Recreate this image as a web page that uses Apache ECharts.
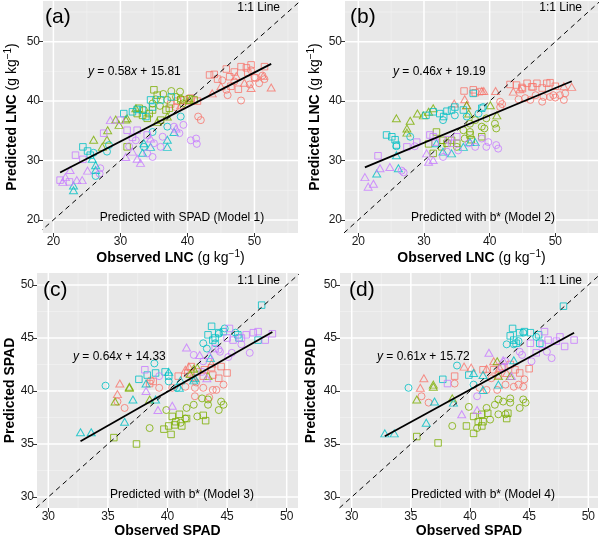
<!DOCTYPE html>
<html><head><meta charset="utf-8">
<script src="https://cdn.jsdelivr.net/npm/echarts@6/dist/echarts.min.js"></script>
<style>html,body{margin:0;padding:0;background:#fff}#c{width:600px;height:539px}</style>
</head><body><div id="c"></div>
<script>
// ---------- tick labels ----------
const ticksLNC = [20, 30, 40, 50];
const minorLNC = [25, 35, 45, 55];
const ticksSPAD = [30, 35, 40, 45, 50];
const minorSPAD = [32.5, 37.5, 42.5, 47.5];

// ---------- regression coefficients [slope, intercept] ----------
const coefA = [0.58, 15.81];
const coefB = [0.46, 19.19];
const coefC = [0.64, 14.33];
const coefD = [0.61, 15.72];

// ---------- panel (a): observed vs predicted LNC, SPAD model ----------
const aRedSq = [[43.3,44.4],[44.0,44.5],[44.5,43.7],[45.8,45.4],[46.3,44.1],[47.0,44.9],[47.6,42.0],[48.0,45.8],[48.8,45.6],[49.0,44.8],[49.5,46.1],[50.1,43.9],[51.5,45.8],[46.5,42.5],[38.5,40.0],[39.5,40.2],[40.5,40.5],[41.5,40.0],[37.5,39.5]];
const aRedCi = [[41.6,37.4],[42.0,36.8],[45.8,41.9],[46.0,41.0],[48.0,40.1],[49.3,42.8],[50.7,43.0],[51.5,43.7],[51.2,44.3],[45.2,43.5],[49.5,45.2],[47.0,43.3],[38.2,39.0],[50.0,44.0]];
const aRedTr = [[52.5,42.3],[49.5,42.2],[51.3,44.2],[48.5,43.1],[45.0,42.5],[43.7,41.3],[47.3,44.2],[39.0,39.3],[40.0,40.0]];
const aGrnCi = [[36.4,41.2],[37.6,41.7],[38.9,41.6],[39.0,40.4],[35.3,40.3],[34.8,39.6],[39.3,39.6],[37.0,40.2],[35.9,39.2],[33.5,38.5],[38.3,40.7]];
const aGrnSq = [[35.0,41.9],[35.5,41.0],[32.8,38.8],[33.3,37.6],[34.3,37.9],[36.0,36.8],[37.3,38.8],[31.0,32.3],[34.0,37.1],[39.0,40.2],[40.3,40.4],[41.0,40.2],[34.8,38.5],[36.8,38.5],[32.5,37.9]];
const aGrnTr = [[32.3,38.8],[29.3,36.9],[29.8,36.0],[30.8,36.9],[28.1,35.1],[26.0,33.5],[28.0,33.5],[27.3,32.3],[31.0,37.1],[35.5,36.5],[37.0,37.4],[40.3,40.2]];
const aCyaSq = [[24.4,32.3],[25.1,31.6],[25.5,30.9],[31.8,38.2],[33.3,38.5],[34.5,40.2],[33.8,37.4],[37.6,40.7],[36.0,40.2],[34.8,39.0],[32.5,38.6],[30.5,37.9]];
const aCyaCi = [[26.0,31.3],[26.3,27.4],[28.0,31.5],[37.0,35.7],[39.0,37.4],[28.3,32.6],[33.5,32.3],[34.8,34.8]];
const aCyaTr = [[23.0,25.8],[23.0,25.0],[26.3,29.2],[26.3,28.4],[25.8,30.3],[33.5,32.9],[34.5,32.3],[37.0,33.5],[37.0,32.3],[38.0,34.8],[33.3,31.3]];
const aPurTr = [[21.4,26.4],[21.8,27.2],[22.5,28.4],[24.3,26.7],[25.1,28.3],[23.5,26.7],[28.5,36.8],[30.8,30.6],[32.5,30.3],[33.0,29.6],[31.8,31.5],[34.5,33.7],[38.3,35.4]];
const aPurSq = [[21.0,26.7],[22.4,26.4],[23.3,30.9],[24.4,30.2],[27.5,34.6],[31.0,35.1],[30.0,36.8],[32.5,35.1],[31.8,33.9],[34.0,34.3]];
const aPurCi = [[26.9,27.8],[27.0,28.7],[31.3,32.4],[32.3,33.4],[34.0,31.2],[34.8,30.6],[35.0,32.9],[36.3,34.0],[38.0,35.7],[38.8,34.6],[39.4,36.0],[40.5,33.4],[41.3,33.7],[41.4,32.8],[36.0,32.3]];

// ---------- panel (b): LNC, b* model ----------
const bRedSq = [[36.1,41.7],[37.5,41.9],[37.8,41.4],[38.5,41.6],[43.1,42.8],[44.1,42.7],[44.9,42.3],[45.7,43.0],[46.4,42.4],[47.2,43.0],[48.0,42.2],[48.7,43.0],[49.2,43.1],[50.0,42.5],[45.0,42.1],[46.6,42.4]];
const bRedTr = [[36.2,40.3],[38.8,41.7],[39.1,41.7],[40.9,41.7],[43.6,41.6],[44.6,42.0],[51.3,42.5],[52.5,42.4],[34.6,39.6],[36.5,39.3]];
const bRedCi = [[41.6,39.9],[41.9,39.5],[41.6,39.0],[45.4,40.5],[46.2,40.2],[48.0,39.9],[48.2,40.7],[49.2,40.7],[49.7,41.0],[50.0,40.6],[50.7,41.0],[51.3,40.2],[51.5,41.3],[47.0,41.0],[44.4,40.3]];
const bGrnTr = [[25.8,37.1],[27.9,36.7],[27.4,35.4],[29.0,37.9],[29.9,37.6],[30.7,38.2],[31.4,38.8],[36.5,39.3],[40.1,39.3],[41.1,37.6],[36.8,37.9],[27.4,34.7]];
const bGrnCi = [[36.0,35.1],[37.0,34.8],[38.8,35.7],[39.2,35.4],[39.5,37.1],[40.8,36.2],[41.0,35.4],[37.0,36.2],[35.0,32.3],[36.2,33.7],[37.8,36.8]];
const bGrnSq = [[30.7,32.8],[31.4,31.2],[32.7,32.3],[32.9,33.4],[34.2,33.4],[37.0,34.3],[37.2,33.5],[38.8,34.0],[31.9,34.8],[35.0,32.9],[33.5,32.9]];
const bCyaSq = [[24.3,34.3],[25.1,34.0],[25.6,33.5],[25.8,32.6],[30.3,37.6],[31.4,38.2],[32.4,37.9],[33.5,38.3],[34.2,38.5],[34.7,39.0],[33.0,37.4],[36.0,38.5],[37.5,41.3],[38.8,38.8]];
const bCyaCi = [[27.9,34.0],[25.8,32.4],[32.9,36.8],[34.7,37.6],[36.5,37.4],[38.3,37.9],[39.0,39.0]];
const bCyaTr = [[22.8,27.8],[25.8,30.9],[26.1,28.7],[31.9,32.9],[32.9,31.5],[34.2,31.2],[36.0,32.3],[37.0,33.1],[37.8,33.1]];
const bPurTr = [[21.0,27.2],[21.5,25.6],[22.3,26.1],[23.3,28.7],[24.8,28.9],[30.4,31.2],[30.7,29.8],[31.4,30.1]];
const bPurSq = [[23.0,30.8],[27.4,32.3],[28.9,33.1],[30.9,34.3],[31.4,34.0],[31.7,33.1],[33.7,33.5],[34.2,32.9],[35.0,34.0]];
const bPurCi = [[26.6,28.3],[26.9,28.0],[28.6,32.4],[32.9,30.6],[33.5,31.5],[35.2,31.7],[37.8,32.3],[38.8,33.7],[39.8,33.1],[41.0,32.6],[41.3,32.0],[39.5,32.3],[36.8,32.9]];

// ---------- panel (c): SPAD, model 3 ----------
const cCyaSq = [[37.6,41.1],[38.3,41.5],[39.0,41.7],[39.8,41.8],[40.1,41.4],[47.9,48.1],[43.7,46.1],[43.4,45.3],[43.8,44.8],[44.3,45.5],[44.7,45.6],[45.9,45.3],[47.6,44.8],[44.0,45.0],[46.0,45.0]];
const cCyaCi = [[34.8,40.5],[38.9,42.6],[40.1,40.9],[40.8,40.3],[43.0,44.5],[44.0,44.5],[44.8,45.9],[45.7,45.5],[43.3,44.0],[44.3,45.4]];
const cCyaTr = [[32.7,36.1],[33.6,36.1],[36.4,37.1],[37.1,39.2],[38.2,40.7],[39.0,39.2],[40.1,41.8],[41.1,41.0],[42.2,41.0],[43.6,43.1],[42.3,41.2],[41.0,40.3]];
const cRedTr = [[36.0,40.7],[35.8,39.7],[41.5,42.0],[41.8,42.3],[43.7,42.6],[42.2,41.3]];
const cRedCi = [[35.8,39.0],[36.4,38.4],[38.6,41.0],[39.3,40.3],[40.4,40.3],[41.5,40.4],[42.3,40.3],[43.0,40.3],[43.8,40.1],[44.1,40.1],[44.7,40.6],[42.3,39.5],[43.5,39.4],[42.4,40.8]];
const cRedSq = [[38.5,40.7],[38.8,40.9],[40.9,41.4],[41.7,41.7],[42.5,41.8],[43.1,42.0],[43.7,42.2],[44.5,42.3],[45.0,41.7],[44.3,41.2],[43.0,41.4],[43.8,41.5],[42.0,42.3]];
const cPurTr = [[38.2,40.0],[39.2,38.2],[40.4,38.6],[41.6,44.1],[42.7,43.4],[43.3,41.2],[43.5,43.4]];
const cPurSq = [[38.1,42.0],[45.2,45.9],[45.5,44.8],[46.6,45.3],[47.2,45.5],[47.6,45.6],[48.2,44.8],[48.8,45.4],[46.2,45.0],[45.0,45.0],[44.0,44.0]];
const cPurCi = [[39.3,41.4],[42.9,41.8],[46.9,43.6],[46.2,44.4],[45.1,43.2],[44.4,43.7],[42.2,43.4],[43.0,42.8],[45.4,43.6],[44.3,43.9]];
const cGrnTr = [[35.6,39.0],[36.8,40.4],[36.8,40.3],[38.5,39.2],[42.5,42.2],[43.4,41.4],[42.2,42.1],[41.9,41.6]];
const cGrnCi = [[38.5,36.5],[39.9,38.2],[41.6,38.4],[42.2,38.7],[42.9,39.3],[43.4,39.2],[44.5,39.0],[44.7,38.7],[44.3,38.2],[42.5,37.6],[41.5,37.4],[41.1,37.0],[43.4,38.7]];
const cGrnSq = [[35.5,35.6],[37.4,35.0],[39.7,36.4],[40.1,36.7],[40.3,35.9],[40.4,37.6],[40.7,37.1],[41.0,37.8],[41.6,37.4],[43.0,37.7],[43.2,37.2],[41.2,36.7],[40.6,36.8]];

// ---------- panel (d): SPAD, model 4 ----------
const dCyaSq = [[37.7,41.1],[39.9,41.5],[47.9,48.0],[43.6,45.9],[43.4,45.2],[43.7,44.8],[44.2,45.5],[44.6,45.6],[45.1,45.5],[45.8,45.3],[45.9,44.5],[43.9,44.5]];
const dCyaCi = [[34.8,40.3],[38.9,42.4],[40.3,40.6],[43.1,44.4],[43.7,44.4],[44.1,44.7],[44.5,45.5],[45.6,45.1]];
const dCyaTr = [[32.8,36.0],[33.6,36.0],[36.3,37.0],[37.0,39.0],[38.6,38.9],[40.3,41.7],[41.1,41.5],[41.1,40.1],[42.4,40.6],[43.7,42.9]];
const dRedTr = [[36.1,41.2],[35.8,40.3],[39.5,42.3],[40.1,42.2],[41.4,42.1],[42.0,42.8],[42.5,42.2],[43.1,41.7]];
const dRedCi = [[35.9,39.5],[36.5,38.9],[38.7,40.7],[40.8,40.3],[42.3,40.1],[43.0,40.6],[43.7,40.4],[44.1,40.6],[44.5,40.4],[44.6,41.1],[41.4,40.1],[41.8,41.2]];
const dRedSq = [[38.7,41.4],[41.1,42.0],[42.0,42.0],[42.7,42.3],[43.4,42.5],[43.8,42.0],[44.2,41.7],[45.0,42.1],[42.4,41.5]];
const dPurTr = [[39.3,37.8],[40.6,38.2],[41.6,43.6],[42.8,42.9],[43.5,41.4]];
const dPurSq = [[38.1,40.7],[46.3,45.6],[46.6,44.8],[47.3,44.7],[47.6,45.1],[48.0,44.2],[48.8,44.8],[45.1,44.5],[45.6,43.6],[46.1,44.4]];
const dPurCi = [[40.6,39.5],[46.9,43.1],[45.2,42.8],[46.5,43.7],[44.4,43.4],[42.7,42.2],[43.0,42.8],[44.2,43.7]];
const dGrnTr = [[35.5,39.2],[36.9,40.6],[36.9,40.4],[38.5,39.3],[42.3,42.8],[42.4,41.4],[43.4,41.4]];
const dGrnCi = [[38.5,36.7],[39.9,38.5],[41.4,38.4],[42.1,38.7],[42.4,39.2],[42.8,39.0],[43.4,39.3],[43.4,38.9],[44.5,39.2],[44.7,38.9],[44.2,38.4],[43.0,37.8],[42.4,37.8],[41.7,37.3],[40.6,36.5]];
const dGrnSq = [[35.5,35.7],[37.3,35.1],[39.7,36.7],[40.3,36.0],[40.3,37.6],[40.7,37.1],[41.0,37.8],[41.5,37.9],[41.1,37.1],[43.1,37.4],[43.2,37.9],[41.0,36.7]];

// ---------- styling ----------
const F = "'Liberation Sans', Arial, Helvetica, sans-serif";
const COL = {red:'#F8766D', grn:'#7CAE00', cya:'#00BFC4', pur:'#C77CFF'};
const SIZE = {circle:7, rect:6.5, triangle:[8,7]};

const nameRich = {
  b:{fontFamily:F, fontSize:14, fontWeight:'bold', color:'#000', lineHeight:18},
  n:{fontFamily:F, fontSize:14, color:'#000', lineHeight:18},
  s:{fontFamily:F, fontSize:10, color:'#000', lineHeight:10, verticalAlign:'top'}
};
const lncX = '{b|Observed LNC }{n|(g kg}{s|−1}{n|)}';
const lncY = '{b|Predicted LNC }{n|(g kg}{s|−1}{n|)}';

const panels = [
  {grid:{left:43, top:1, width:255, height:232}, x:[18.45,56.5], y:[17.8,56.85], ticks:ticksLNC, minor:minorLNC,
   xName:lncX, yName:lncY, xGap:12, yGap:22, coef:coefA,
   groups:[[aRedCi,'red','circle'],[aRedTr,'red','triangle'],[aRedSq,'red','rect'],[aGrnCi,'grn','circle'],[aGrnTr,'grn','triangle'],[aGrnSq,'grn','rect'],[aCyaCi,'cya','circle'],[aCyaTr,'cya','triangle'],[aCyaSq,'cya','rect'],[aPurCi,'pur','circle'],[aPurTr,'pur','triangle'],[aPurSq,'pur','rect']]},
  {grid:{left:345, top:1, width:253, height:232}, x:[17.97,56.5], y:[17.8,56.85], ticks:ticksLNC, minor:minorLNC,
   xName:lncX, yName:lncY, xGap:12, yGap:21, coef:coefB,
   groups:[[bRedCi,'red','circle'],[bRedTr,'red','triangle'],[bRedSq,'red','rect'],[bGrnCi,'grn','circle'],[bGrnTr,'grn','triangle'],[bGrnSq,'grn','rect'],[bCyaCi,'cya','circle'],[bCyaTr,'cya','triangle'],[bCyaSq,'cya','rect'],[bPurCi,'pur','circle'],[bPurTr,'pur','triangle'],[bPurSq,'pur','rect']]},
  {grid:{left:37, top:273, width:261, height:235}, x:[29.05,50.95], y:[28.96,51.13], ticks:ticksSPAD, minor:minorSPAD,
   xName:'{b|Observed SPAD}', yName:'{b|Predicted SPAD}', xGap:12, yGap:17, coef:coefC,
   groups:[[cRedCi,'red','circle'],[cRedTr,'red','triangle'],[cRedSq,'red','rect'],[cGrnCi,'grn','circle'],[cGrnTr,'grn','triangle'],[cGrnSq,'grn','rect'],[cCyaCi,'cya','circle'],[cCyaTr,'cya','triangle'],[cCyaSq,'cya','rect'],[cPurCi,'pur','circle'],[cPurTr,'pur','triangle'],[cPurSq,'pur','rect']]},
  {grid:{left:340, top:273, width:258, height:235}, x:[29.01,50.82], y:[28.96,51.13], ticks:ticksSPAD, minor:minorSPAD,
   xName:'{b|Observed SPAD}', yName:'{b|Predicted SPAD}', xGap:12, yGap:20, coef:coefD,
   groups:[[dRedCi,'red','circle'],[dRedTr,'red','triangle'],[dRedSq,'red','rect'],[dGrnCi,'grn','circle'],[dGrnTr,'grn','triangle'],[dGrnSq,'grn','rect'],[dCyaCi,'cya','circle'],[dCyaTr,'cya','triangle'],[dCyaSq,'cya','rect'],[dPurCi,'pur','circle'],[dPurTr,'pur','triangle'],[dPurSq,'pur','rect']]}
];

const grids = [], xAxes = [], yAxes = [], series = [];
panels.forEach((p, i) => {
  grids.push(Object.assign({show:true, backgroundColor:'#E8E8E8', borderWidth:0, containLabel:false}, p.grid));
  const axisCommon = (ticks) => ({
    type:'value', gridIndex:i, axisLine:{show:false},
    axisTick:{show:true, customValues:ticks, length:4, lineStyle:{color:'#333', width:1}},
    axisLabel:{customValues:ticks, color:'#1a1a1a', fontSize:12, fontFamily:F, margin:3},
    splitLine:{show:false}, nameLocation:'middle', nameTextStyle:{rich:nameRich}
  });
  xAxes.push(Object.assign(axisCommon(p.ticks), {min:p.x[0], max:p.x[1], name:p.xName, nameGap:p.xGap}));
  yAxes.push(Object.assign(axisCommon(p.ticks), {min:p.y[0], max:p.y[1], name:p.yName, nameGap:p.yGap, nameRotate:90}));

  // background grid lines: one line series per grid line, spanning the panel
  const gl = (v, vertical, color, width) => ({type:'line', xAxisIndex:i, yAxisIndex:i, symbol:'none', silent:true, z:1,
    data: vertical ? [[v, p.y[0]], [v, p.y[1]]] : [[p.x[0], v], [p.x[1], v]],
    lineStyle:{color, width}});
  p.minor.forEach(v => { series.push(gl(v, true, '#F2F2F2', 0.7)); series.push(gl(v, false, '#F2F2F2', 0.7)); });
  p.ticks.forEach(v => { series.push(gl(v, true, '#FFFFFF', 1.5)); series.push(gl(v, false, '#FFFFFF', 1.5)); });

  // 1:1 line
  const lo = Math.min(p.x[0], p.y[0]), hi = Math.max(p.x[1], p.y[1]);
  series.push({type:'line', xAxisIndex:i, yAxisIndex:i, data:[[lo,lo],[hi,hi]], symbol:'none', clip:true, silent:true, z:4,
    lineStyle:{color:'#000', width:1, type:[5,4]}});

  // points
  let xmin = Infinity, xmax = -Infinity;
  p.groups.forEach(([data, c, shape]) => {
    data.forEach(d => { xmin = Math.min(xmin, d[0]); xmax = Math.max(xmax, d[0]); });
    series.push({type:'scatter', xAxisIndex:i, yAxisIndex:i, data, symbol:shape, symbolSize:SIZE[shape], silent:true, z:3,
      itemStyle:{color:'rgba(0,0,0,0)', borderColor:COL[c], borderWidth:1}});
  });

  // regression line over the data range
  const [k, b] = p.coef;
  series.push({type:'line', xAxisIndex:i, yAxisIndex:i, data:[[xmin, k*xmin+b],[xmax, k*xmax+b]], symbol:'none', silent:true, z:5,
    lineStyle:{color:'#000', width:1.8}});
});

function txt(x, y, text, size, align, rich) {
  return {type:'text', x, y, silent:true, z:10,
    style:{text, fontSize:size, fontFamily:F, fill:'#000', align, textAlign:align, verticalAlign:'middle', textVerticalAlign:'middle', rich}};
}
const eqRich = {i:{fontStyle:'italic', fontSize:12, fontFamily:F, fill:'#000', color:'#000'}, r:{fontSize:12, fontFamily:F, color:'#000'}};
const graphics = [
  txt(45,17,'(a)',21,'left'), txt(280,8,'1:1 Line',12,'right'),
  txt(88,72,'{i|y}{r| = 0.58}{i|x}{r| + 15.81}',12,'left',eqRich), txt(182,218,'Predicted with SPAD (Model 1)',12,'center'),
  txt(350,17,'(b)',21,'left'), txt(582,8,'1:1 Line',12,'right'),
  txt(393,72,'{i|y}{r| = 0.46}{i|x}{r| + 19.19}',12,'left',eqRich), txt(483,218,'Predicted with b* (Model 2)',12,'center'),
  txt(43,290,'(c)',21,'left'), txt(280,281,'1:1 Line',12,'right'),
  txt(73,357,'{i|y}{r| = 0.64}{i|x}{r| + 14.33}',12,'left',eqRich), txt(182,495,'Predicted with b* (Model 3)',12,'center'),
  txt(349,290,'(d)',21,'left'), txt(582,281,'1:1 Line',12,'right'),
  txt(377,357,'{i|y}{r| = 0.61}{i|x}{r| + 15.72}',12,'left',eqRich), txt(483,495,'Predicted with b* (Model 4)',12,'center')
];

const chart = echarts.init(document.getElementById('c'), null, {renderer:'canvas'});
chart.setOption({animation:false, backgroundColor:'#fff', textStyle:{fontFamily:F},
  grid:grids, xAxis:xAxes, yAxis:yAxes, series, graphic:graphics});
</script></body></html>
